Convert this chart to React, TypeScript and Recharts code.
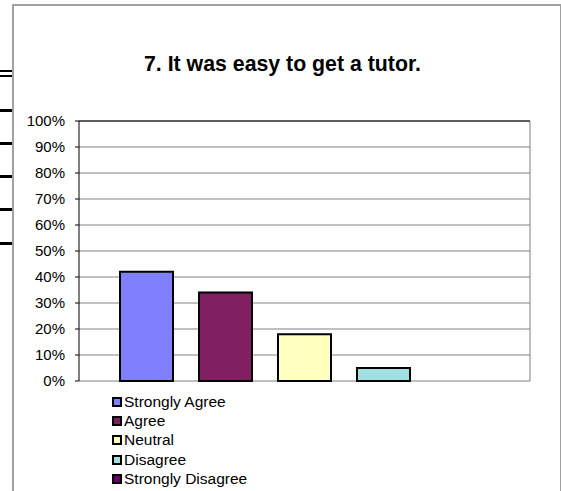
import React from 'react';
import { BarChart, Bar, XAxis, YAxis, CartesianGrid, Legend, ReferenceLine } from 'recharts';

const seriesNames = ['Strongly Agree', 'Agree', 'Neutral', 'Disagree', 'Strongly Disagree'];
const seriesKeys = ['sa', 'a', 'n', 'd', 'sd'];
const seriesValues = [42, 34, 18, 5, 0];
const seriesColors = ['#8080FF', '#802060', '#FFFFC0', '#A0E0E0', '#660066'];
const yTicks = [0, 10, 20, 30, 40, 50, 60, 70, 80, 90, 100];

const row: Record<string, number | string> = { name: '' };
seriesKeys.forEach((k, i) => {
    row[k] = seriesValues[i];
});
const data = [row];

const font = '"Liberation Sans", Arial, sans-serif';

// the stray spreadsheet cell borders on the left edge
const leftMarks = [
    { top: 70, h: 2 },
    { top: 75, h: 2 },
    { top: 109, h: 3 },
    { top: 142, h: 3 },
    { top: 175, h: 3 },
    { top: 208, h: 3 },
    { top: 242, h: 3 },
];

const LegendBox = (props: any) => {
    // keep the series order, not alphabetical
    const items = [...(props.payload || [])].sort(
        (p: any, q: any) => seriesNames.indexOf(p.value) - seriesNames.indexOf(q.value)
    );
    return (
        <div style={{ fontFamily: font, fontSize: 15.5, color: '#000' }}>
            {items.map((it: any) => (
                <div key={it.value} style={{ display: 'flex', alignItems: 'center', height: 19.3, whiteSpace: 'nowrap' }}>
                    <span
                        style={{
                            display: 'inline-block',
                            width: 10,
                            height: 10,
                            boxSizing: 'border-box',
                            border: '2px solid #000',
                            background: it.color,
                            marginRight: 2,
                        }}
                    />
                    <span>{it.value}</span>
                </div>
            ))}
        </div>
    );
};

const App: React.FC = () => {
    return (
        <div style={{ position: 'fixed', left: 0, top: 0, width: 561, height: 491, background: '#fff', overflow: 'hidden' }}>
            {leftMarks.map((m, i) => (
                <div key={i} style={{ position: 'absolute', left: 0, top: m.top, width: 13, height: m.h, background: '#000' }} />
            ))}
            <div
                style={{
                    position: 'absolute',
                    left: 12,
                    top: 4,
                    width: 546,
                    height: 520,
                    border: '2px solid #a0a0a0',
                }}
            />
            <div
                style={{
                    position: 'absolute',
                    left: 0,
                    top: 51,
                    width: 565,
                    textAlign: 'center',
                    fontFamily: font,
                    fontWeight: 'bold',
                    fontSize: 21.3,
                    lineHeight: '26px',
                    color: '#000',
                }}
            >
                7. It was easy to get a tutor.
            </div>
            <div style={{ position: 'absolute', left: 0, top: 0 }}>
                <BarChart
                    width={561}
                    height={491}
                    data={data}
                    margin={{ top: 121, right: 31, left: 0, bottom: 110 }}
                    barSize={53}
                    barGap={26}
                    style={{ fontFamily: font }}
                >
                    <CartesianGrid
                        stroke="#808080"
                        vertical={true}
                        verticalCoordinatesGenerator={(p: any) => [p.offset.left + p.offset.width]}
                    />
                    <XAxis dataKey="name" hide />
                    <YAxis
                        width={79}
                        domain={[0, 100]}
                        ticks={yTicks}
                        interval={0}
                        tickFormatter={(v: number) => `${v}%`}
                        axisLine={{ stroke: '#000' }}
                        tickLine={{ stroke: '#000' }}
                        tickSize={4}
                        tickMargin={10}
                        tick={{ fontSize: 15, fill: '#000', fontFamily: font }}
                    />
                    <ReferenceLine y={100} stroke="#000" />
                    <Legend
                        layout="vertical"
                        align="center"
                        verticalAlign="middle"
                        content={<LegendBox />}
                        wrapperStyle={{ left: 112, top: 392, width: 'auto' }}
                    />
                    {seriesKeys.map((k, i) => (
                        <Bar
                            key={k}
                            dataKey={k}
                            name={seriesNames[i]}
                            fill={seriesColors[i]}
                            stroke="#000"
                            strokeWidth={2}
                            isAnimationActive={false}
                        />
                    ))}
                </BarChart>
            </div>
        </div>
    );
};

export default App;
